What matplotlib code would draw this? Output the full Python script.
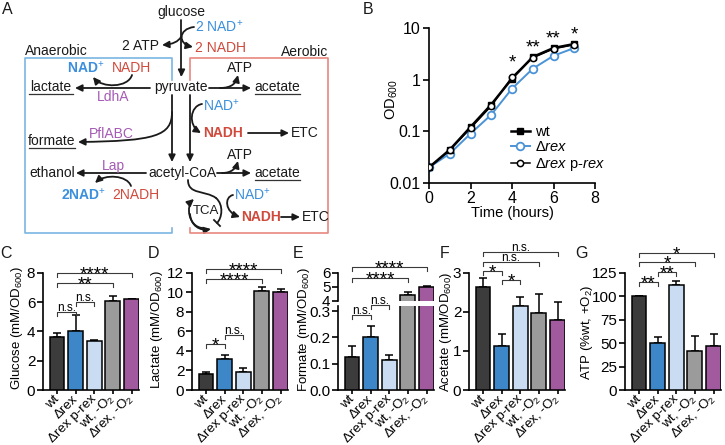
import numpy as np
import matplotlib
matplotlib.use('Agg')
import matplotlib.pyplot as plt
from matplotlib.patches import FancyArrowPatch
from matplotlib.path import Path

plt.rcParams['font.family'] = ['Liberation Sans', 'DejaVu Sans']
plt.rcParams['mathtext.fontset'] = 'custom'
plt.rcParams['mathtext.rm'] = 'Liberation Sans'
plt.rcParams['mathtext.it'] = 'Liberation Sans:italic'
plt.rcParams['mathtext.bf'] = 'Liberation Sans:bold'

# ---- data -------------------------------------------------------------
hours = [0, 1, 2, 3, 4, 5, 6, 7]
od_wt = [0.02, 0.044, 0.121, 0.33, 1.05, 2.75, 4.1, 4.9]
od_rex = [0.02, 0.037, 0.09, 0.21, 0.67, 1.63, 2.9, 4.1]
od_prex = [0.02, 0.043, 0.115, 0.31, 1.12, 2.65, 3.95, 4.75]
growth_stars = [(4, 2.75, '*'), (5, 5.4, '**'), (6, 8.0, '**'), (7, 9.5, '*')]

strains = ['wt', 'Δrex', 'Δrex p-rex', 'wt, -O$_2$', 'Δrex, -O$_2$']

glucose = [3.6, 4.0, 3.35, 6.1, 6.18]
glucose_err = [0.28, 1.1, 0.08, 0.3, 0.06]
lactate = [1.65, 3.15, 1.8, 10.15, 10.05]
lactate_err = [0.22, 0.4, 0.5, 0.35, 0.3]
formate = [0.125, 0.2, 0.115, 4.4, 4.95]
formate_err = [0.042, 0.044, 0.018, 0.22, 0.1]
acetate = [2.63, 1.13, 2.16, 1.98, 1.8]
acetate_err = [0.23, 0.31, 0.21, 0.47, 0.44]
atp = [100, 50, 112, 42, 47]
atp_err = [0, 7, 4, 16, 13]

# brackets: (from bar, to bar, height, label)
glucose_sig = [(0, 4, 8.0, '****'), (0, 3, 7.27, '**'), (1, 2, 6.0, 'n.s.'), (0, 1, 5.34, 'n.s.')]
lactate_sig = [(0, 4, 12.34, '****'), (0, 3, 11.35, '****'), (1, 2, 5.62, 'n.s.'), (0, 1, 4.67, '*')]
formate_sig_hi = [(0, 4, 6.44, '****'), (0, 3, 5.63, '****')]
formate_sig_lo = [(1, 2, 0.323, 'n.s.'), (0, 1, 0.285, 'n.s.')]
acetate_sig = [(0, 4, 3.52, 'n.s.'), (0, 3, 3.27, 'n.s.'), (0, 1, 3.05, '*'), (1, 2, 2.82, '*')]
atp_sig = [(0, 4, 146, '*'), (0, 3, 136.5, '*'), (1, 2, 125.5, '**'), (0, 1, 115, '**')]

bar_colors = ['#3c3c3c', '#3d86c8', '#c9dcf2', '#9b9b9b', '#a15a9d']
BLUE = '#3b8fdc'
RED = '#d04a3c'
PURPLE = '#a55ab5'
INK = '#1a1a1a'

W, H = 725, 445
fig = plt.figure(figsize=(7.25, 4.45), dpi=100)


def box(l, t, r, b):
    return fig.add_axes([l / W, 1 - b / H, (r - l) / W, (b - t) / H])


# overlay in pixel coordinates for the pathway diagram and panel letters
dg = fig.add_axes([0, 0, 1, 1], zorder=-1)
dg.set_xlim(0, W)
dg.set_ylim(H, 0)
dg.axis('off')


def txt(x, y, s, color=INK, ha='center', weight='normal', size=10, rot=0):
    dg.text(x, y, s, color=color, ha=ha, va='center', fontweight=weight,
            fontsize=size, rotation=rot)


def curve(pts, head=True):
    codes = {2: [Path.MOVETO, Path.LINETO],
             3: [Path.MOVETO, Path.CURVE3, Path.CURVE3],
             4: [Path.MOVETO, Path.CURVE4, Path.CURVE4, Path.CURVE4]}[len(pts)]
    style = '-|>,head_length=0.45,head_width=0.22' if head else '-'
    dg.add_patch(FancyArrowPatch(path=Path(pts, codes), arrowstyle=style,
                                 mutation_scale=9, lw=1.3, color=INK))


def underline(x0, x1, y):
    dg.plot([x0, x1], [y, y], color='#333333', lw=0.9)


for s, x, y in [('A', 7, 10), ('B', 368, 10), ('C', 6, 254), ('D', 154, 254),
                ('E', 298, 253), ('F', 445, 253), ('G', 582, 253)]:
    txt(x, y, s, size=11.5)

# boxes
dg.plot([172, 172, 25, 25, 172, 172], [80, 58, 58, 233, 233, 228], color='#7ab5e3', lw=1.2)
dg.plot([190, 190, 328, 328, 190, 190], [80, 58, 58, 233, 233, 228], color='#e8877f', lw=1.2)
txt(25, 51, 'Anaerobic', ha='left')
txt(328, 52, 'Aerobic', ha='right')

# glycolysis
txt(181, 12, 'glucose')
curve([(181.5, 20), (181.5, 77)])
txt(195, 27, '2 NAD$^{+}$', color=BLUE, ha='left')
txt(195, 48, '2 NADH', color=RED, ha='left')
txt(159, 46, '2 ATP', ha='right')
curve([(194, 27), (178, 29), (178, 44), (193, 47)])
curve([(181, 37), (177, 44), (162, 45)])
txt(181, 87, 'pyruvate')

# lactate
txt(86, 68, 'NAD$^{+}$', color=BLUE, weight='bold')
txt(132, 68, 'NADH', color=RED)
curve([(132, 75), (128, 88), (102, 88), (93, 77)])
curve([(150, 88), (75, 88)])
txt(51, 87, 'lactate')
underline(29, 73, 94)
txt(113, 97, 'LdhA', color=PURPLE)

# pyruvate -> acetate
curve([(209, 88), (251, 88)])
curve([(220, 88), (232, 88), (236, 83), (238, 75)])
txt(240, 68, 'ATP')
txt(277, 87, 'acetate')
underline(255, 300, 94)

# pyruvate -> acetyl-CoA (two routes)
curve([(172, 95), (172, 162)])
curve([(190, 95), (190, 162)])
curve([(172, 112), (172, 136), (155, 141), (78, 142)])
txt(111, 134, 'PflABC', color=PURPLE)
txt(52, 141, 'formate')
underline(29, 75, 148)
txt(203, 106, 'NAD$^{+}$', color=BLUE, ha='left')
curve([(202, 104), (190, 106), (188, 125), (201, 133)])
txt(203, 133, 'NADH', color=RED, weight='bold', ha='left')
curve([(248, 133), (289, 133)])
txt(291, 133, 'ETC', ha='left')

# acetyl-CoA
txt(182, 173, 'acetyl-CoA')
curve([(217, 173), (251, 173)])
curve([(222, 173), (232, 173), (236, 168), (238, 161)])
txt(240, 155, 'ATP')
txt(277, 173, 'acetate')
underline(255, 300, 180)
curve([(146, 173), (76, 173)])
txt(52, 173, 'ethanol')
txt(113, 166, 'Lap', color=PURPLE)
curve([(131, 186), (127, 175), (105, 174), (95, 183)])
txt(84, 195, '2NAD$^{+}$', color=BLUE, weight='bold')
txt(136, 195, '2NADH', color=RED)

# TCA cycle
curve([(188, 180), (188, 195), (205, 190), (216, 198)], head=False)
curve([(216, 198), (224, 205), (222, 218), (217, 223)], head=False)
dg.plot([214, 220], [220, 226], color=INK, lw=1.3)
curve([(202, 228), (188, 226), (186, 206), (194, 199)])
curve([(190, 214), (191, 226), (200, 231), (211, 229)])
txt(206, 211, 'TCA', size=9.5)
txt(234, 195, 'NAD$^{+}$', color=BLUE, ha='left')
curve([(233, 195), (224, 197), (225, 212), (240, 217)])
txt(241, 217, 'NADH', color=RED, weight='bold', ha='left')
curve([(281, 217), (300, 217)])
txt(302, 217, 'ETC', ha='left')


def stars(ax, x, y, lab, base=-4.6, fs=13.5):
    ax.annotate(lab, (x, y), xytext=(0, base), textcoords='offset points',
                ha='center', va='baseline', fontsize=fs, annotation_clip=False)


# ---- B: growth curve ----------------------------------------------------
axb = box(429, 28, 595, 183)
axb.plot(hours, od_wt, color='black', lw=1.8, marker='s', ms=5, label='wt', zorder=3)
axb.plot(hours, od_rex, color='#4b93d6', lw=1.4, marker='o', ms=5.5, mfc='white',
         mec='#4b93d6', mew=1.3, label='Δ$\\mathit{rex}$', zorder=2)
axb.plot(hours, od_prex, color='black', lw=1.1, marker='o', ms=4.5, mfc='white',
         mec='black', mew=1.1, label='Δ$\\mathit{rex}$ p-$\\mathit{rex}$', zorder=4)
axb.set_yscale('log')
axb.set_ylim(0.01, 10)
axb.set_xlim(0, 8)
axb.set_yticks([0.01, 0.1, 1, 10])
axb.set_yticklabels(['0.01', '0.1', '1', '10'])
axb.set_xticks([0, 2, 4, 6, 8])
axb.minorticks_off()
for sp in ['top', 'right']:
    axb.spines[sp].set_visible(False)
for sp in ['left', 'bottom']:
    axb.spines[sp].set_linewidth(1.2)
axb.tick_params(direction='out', length=4, width=1.2, labelsize=11.5, pad=2)
axb.patch.set_alpha(0)
axb.legend(loc='lower left', bbox_to_anchor=(0.43, 0.0), frameon=False, fontsize=10.5,
           handlelength=1.3, handletextpad=0.35, labelspacing=0.1, borderpad=0.2)
fig.text(512 / W, 1 - 213 / H, 'Time (hours)', ha='center', va='center', fontsize=10.5)
fig.text(392 / W, 1 - 100 / H, 'OD$_{600}$', ha='center', va='center', fontsize=10.5, rotation=90)

for t, y, lab in growth_stars:
    stars(axb, t, y, lab, base=-7.6)


# ---- bar panels ---------------------------------------------------------
def style_bar_axes(ax, ylim, ticks, ticklabels=None, xlabels=True):
    ax.set_xlim(-0.75, 4.4)
    ax.set_ylim(*ylim)
    ax.set_yticks(ticks)
    if ticklabels is not None:
        ax.set_yticklabels(ticklabels)
    for sp in ['top', 'right']:
        ax.spines[sp].set_visible(False)
    for sp in ['left', 'bottom']:
        ax.spines[sp].set_linewidth(1.2)
    ax.tick_params(direction='out', length=4, width=1.2, labelsize=11, pad=1.5)
    ax.tick_params(axis='x', length=3, pad=2)
    ax.patch.set_alpha(0)
    if xlabels:
        ax.set_xticks(range(5))
        ax.set_xticklabels(strains, rotation=45, ha='right', va='center',
                           rotation_mode='anchor', fontsize=9.6)
    else:
        ax.set_xticks([])
        ax.spines['bottom'].set_visible(False)


def draw_bars(ax, vals, err):
    x = np.arange(len(vals))
    ax.bar(x, vals, width=0.8, color=bar_colors, edgecolor='black', linewidth=1.1, zorder=3)
    ax.errorbar(x, vals, yerr=[np.zeros(len(vals)), err], fmt='none', ecolor='black',
                elinewidth=1.1, capsize=3, capthick=1.1, zorder=2)


def brackets(ax, sig, ppu):
    drop = 4 / ppu
    for i, j, y, lab in sig:
        ax.plot([i, i, j, j], [y - drop, y, y, y - drop], color='#3a3a3a', lw=0.8, clip_on=False)
        if lab == 'n.s.':
            ax.annotate(lab, ((i + j) / 2, y), xytext=(0, 0.8), textcoords='offset points',
                        ha='center', va='baseline', fontsize=8.5, annotation_clip=False)
        else:
            stars(ax, (i + j) / 2, y, lab)


def ylab(x, y, s):
    fig.text(x / W, 1 - y / H, s, ha='center', va='center', fontsize=9.5, rotation=90)


# C glucose
axc = box(43, 272.7, 139, 390)
draw_bars(axc, glucose, glucose_err)
style_bar_axes(axc, (0, 8), [0, 2, 4, 6, 8])
brackets(axc, glucose_sig, 117.3 / 8)
ylab(17, 328, 'Glucose (mM/OD$_{600}$)')

# D lactate
axd = box(192, 272.7, 288, 390)
draw_bars(axd, lactate, lactate_err)
style_bar_axes(axd, (0, 12), [0, 2, 4, 6, 8, 10, 12])
brackets(axd, lactate_sig, 117.3 / 12)
ylab(157, 330, 'Lactate (mM/OD$_{600}$)')

# E formate (broken axis)
axe_hi = box(338, 272.7, 434, 300.5)
draw_bars(axe_hi, formate, formate_err)
style_bar_axes(axe_hi, (4, 6), [4, 5, 6], xlabels=False)
brackets(axe_hi, formate_sig_hi, 27.8 / 2)
axe_lo = box(338, 305.8, 434, 390)
draw_bars(axe_lo, formate, formate_err)
style_bar_axes(axe_lo, (0, 0.32), [0, 0.1, 0.2, 0.3], ['0.0', '0.1', '0.2', '0.3'])
brackets(axe_lo, formate_sig_lo, 84.2 / 0.32)
ylab(304, 330, 'Formate (mM/OD$_{600}$)')

# F acetate
axf = box(469, 272.7, 565, 390)
draw_bars(axf, acetate, acetate_err)
style_bar_axes(axf, (0, 3), [0, 1, 2, 3])
brackets(axf, acetate_sig, 117.3 / 3)
ylab(446, 332, 'Acetate (mM/OD$_{600}$)')

# G ATP
axg = box(625, 272.7, 721, 390)
draw_bars(axg, atp, atp_err)
style_bar_axes(axg, (0, 125), [0, 25, 50, 75, 100, 125])
brackets(axg, atp_sig, 117.3 / 125)
ylab(587, 332, 'ATP (%wt, +O$_2$)')

fig.savefig('out.png', dpi=100)
